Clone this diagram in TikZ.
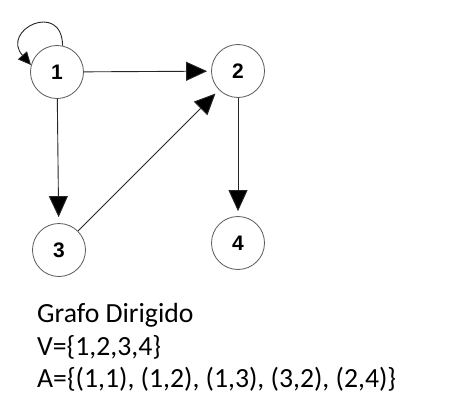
\documentclass[tikz,border=0pt]{standalone}
\usepackage{fontspec}
\setmainfont{Carlito}
\newfontfamily\vertexfont{Liberation Sans}
\usetikzlibrary{arrows.meta}
\begin{document}
\begin{tikzpicture}[x=1pt,y=-1pt,
  vertex/.style={circle,draw=black!65,line width=0.8pt,minimum size=53pt,inner sep=0pt,
    font=\vertexfont\bfseries\fontsize{21}{21}\selectfont},
  arc/.style={draw=black!85,line width=0.9pt,-{Triangle[length=21pt,width=19pt,fill=black]}},
  loopArc/.style={draw=black!85,line width=0.9pt,-{Triangle[length=13pt,width=12pt,fill=black]}},
  caption/.style={anchor=base west,inner sep=0pt,font=\fontsize{27.7}{27.7}\selectfont}]
  \useasboundingbox (0,0) rectangle (471,412);
  % vertices
  \node[vertex] (v1) at (57,72) {1};
  \node[vertex] (v2) at (238,71) {2};
  \node[vertex] (v3) at (59,250) {3};
  \node[vertex] (v4) at (238,243) {4};
  % arcs
  \draw[loopArc] (v1.78) .. controls (62,0) and (0,30) .. (v1.165);
  \draw[arc,shorten >=4pt] (v1) -- (v2);
  \draw[arc,shorten >=6pt] (v1) -- (v3);
  \draw[arc,shorten >=5pt] (v3) -- (v2);
  \draw[arc,shorten >=5pt] (v2) -- (v4);
  % description
  \node[caption] (t1) at (37,322) {Grafo Dirigido};
  \node[caption] (t2) at (37,355) {V=\{1,2,3,4\}};
  \node[caption] (t3) at (37,387) {A=\{(1,1), (1,2), (1,3), (3,2), (2,4)\}};
\end{tikzpicture}
\end{document}
